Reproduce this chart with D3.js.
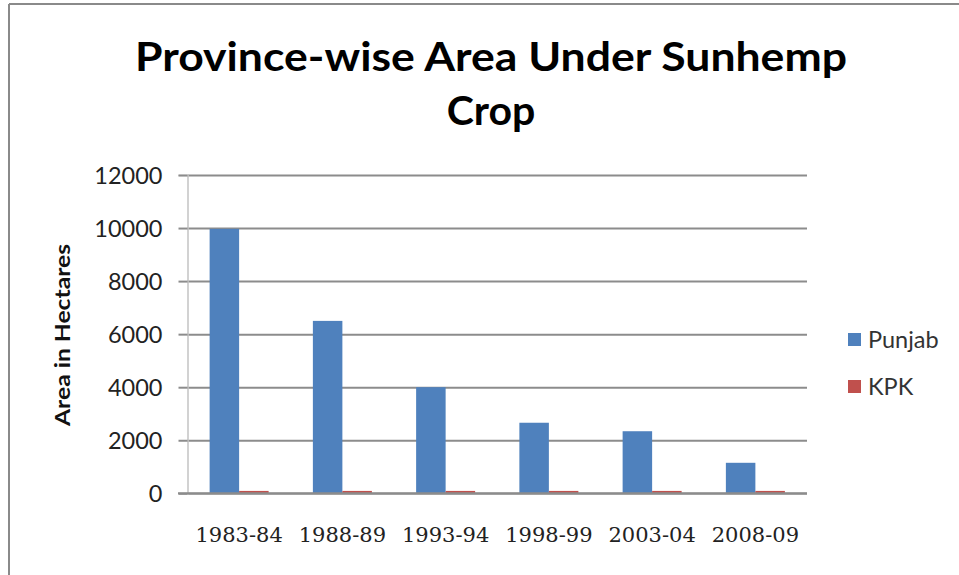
<!DOCTYPE html>
<html>
<head>
<meta charset="utf-8">
<script src="https://cdn.jsdelivr.net/npm/d3@7"></script>
<style>
  html, body { margin: 0; padding: 0; background: #fff; }
  svg { display: block; }
</style>
</head>
<body>
<script>
// ---- data ----
const categories = ["1983-84", "1988-89", "1993-94", "1998-99", "2003-04", "2008-09"];
const seriesNames = ["Punjab", "KPK"];
const punjab = [9970, 6500, 4000, 2660, 2340, 1150];
const kpk = [90, 90, 90, 90, 90, 90];
const yTicks = [0, 2000, 4000, 6000, 8000, 10000, 12000];
const titleLines = ["Province-wise Area Under Sunhemp", "Crop"];
const yTitle = "Area in Hectares";

const W = 959, H = 575;
const colors = { Punjab: "#4F81BD", KPK: "#C0504D" };
const plot = { left: 187.5, right: 807, top: 175, bottom: 493.3 };

const svg = d3.select("body").append("svg").attr("width", W).attr("height", H);

// outer border (top & left visible)
svg.append("line").attr("x1", 9).attr("x2", W).attr("y1", 4).attr("y2", 4)
  .attr("stroke", "#8a8a8a").attr("stroke-width", 2);
svg.append("line").attr("x1", 9).attr("x2", 9).attr("y1", 4).attr("y2", H)
  .attr("stroke", "#8a8a8a").attr("stroke-width", 2);

// title
svg.append("text").attr("x", 491).attr("y", 71).attr("text-anchor", "middle")
  .attr("font-family", "Lato, 'Open Sans', sans-serif").attr("font-weight", "bold")
  .attr("font-size", 41).attr("fill", "#000")
  .attr("textLength", 712).attr("lengthAdjust", "spacingAndGlyphs")
  .text(titleLines[0]);
svg.append("text").attr("x", 491).attr("y", 125).attr("text-anchor", "middle")
  .attr("font-family", "Lato, 'Open Sans', sans-serif").attr("font-weight", "bold")
  .attr("font-size", 41).attr("fill", "#000")
  .text(titleLines[1]);

// scales
const x0 = d3.scaleBand().domain(categories).range([plot.left, plot.right]).paddingInner(0).paddingOuter(0);
const x1 = d3.scaleBand().domain(seriesNames).range([0, x0.bandwidth()]).paddingInner(0).paddingOuter(0.75);
const y = d3.scaleLinear().domain([0, 12000]).range([plot.bottom, plot.top]);

// gridlines
const grid = svg.append("g").attr("transform", `translate(${plot.left},0)`)
  .call(d3.axisLeft(y).tickValues(yTicks).tickSize(-(plot.right - plot.left)).tickFormat(""));
grid.select(".domain").remove();
grid.selectAll("line").attr("stroke", "#8c8c8c").attr("stroke-width", 2);

// y axis with outward ticks + labels
const yAxis = svg.append("g").attr("transform", `translate(${plot.left},0)`)
  .call(d3.axisLeft(y).tickValues(yTicks).tickSize(9).tickPadding(16).tickFormat(d3.format("d")));
yAxis.select(".domain").attr("stroke", "#c4c4c4").attr("stroke-width", 1.5);
yAxis.selectAll(".tick line").attr("stroke", "#8c8c8c").attr("stroke-width", 2);
yAxis.selectAll(".tick text").attr("font-family", "Lato, 'Open Sans', sans-serif")
  .attr("font-size", 23.5).attr("fill", "#222").attr("dy", "0.36em");

// bars
const groups = svg.append("g").selectAll("g").data(categories).join("g")
  .attr("transform", d => `translate(${x0(d)},0)`);
groups.selectAll("rect").data((d, i) => [
    { s: "Punjab", v: punjab[i] },
    { s: "KPK", v: kpk[i] }
  ]).join("rect")
  .attr("x", d => x1(d.s))
  .attr("width", x1.bandwidth())
  .attr("y", d => y(d.v))
  .attr("height", d => y(0) - y(d.v))
  .attr("fill", d => colors[d.s]);

// x axis baseline
svg.append("line").attr("x1", 178).attr("x2", plot.right)
  .attr("y1", y(0)).attr("y2", y(0)).attr("stroke", "#8c8c8c").attr("stroke-width", 2);

// x axis labels
const xAxis = svg.append("g").attr("transform", `translate(0,${y(0)})`)
  .call(d3.axisBottom(x0).tickSize(0).tickPadding(34));
xAxis.select(".domain").remove();
xAxis.selectAll(".tick text").attr("font-family", "'DejaVu Serif', 'Liberation Serif', serif")
  .attr("font-size", 21).attr("fill", "#222");

// y axis title
svg.append("text")
  .attr("transform", "translate(70,335) rotate(-90)")
  .attr("text-anchor", "middle")
  .attr("font-family", "Lato, 'Open Sans', sans-serif").attr("font-weight", "bold")
  .attr("font-size", 21).attr("fill", "#111")
  .attr("textLength", 182).attr("lengthAdjust", "spacingAndGlyphs")
  .text(yTitle);

// legend
const legend = svg.append("g").selectAll("g").data(seriesNames).join("g")
  .attr("transform", (d, i) => `translate(848,${340 + i * 47})`);
legend.append("rect").attr("x", 0).attr("y", -7).attr("width", 13).attr("height", 13)
  .attr("fill", d => colors[d]);
legend.append("text").attr("x", 20).attr("y", 0).attr("dy", "0.36em")
  .attr("font-family", "Lato, 'Open Sans', sans-serif").attr("font-size", 23.5)
  .attr("fill", "#333").text(d => d);
</script>
</body>
</html>
